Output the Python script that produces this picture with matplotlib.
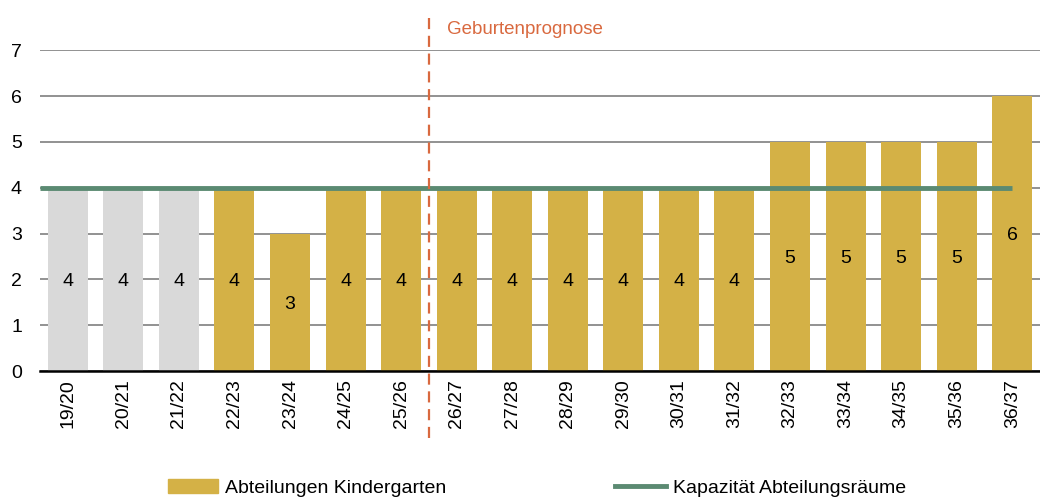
import matplotlib
matplotlib.use("Agg")
import matplotlib.pyplot as plt
from matplotlib.patches import Patch
from matplotlib.lines import Line2D

plt.rcParams['font.family'] = ['Liberation Sans', 'DejaVu Sans']

categories = ["19/20", "20/21", "21/22", "22/23", "23/24", "24/25", "25/26", "26/27", "27/28",
              "28/29", "29/30", "30/31", "31/32", "32/33", "33/34", "34/35", "35/36", "36/37"]
abteilungen = [4, 4, 4, 4, 3, 4, 4, 4, 4, 4, 4, 4, 4, 5, 5, 5, 5, 6]
historic = [True, True, True] + [False] * 15
kapazitaet = 4
forecast_after = "25/26"

gold = "#D4B146"
grey = "#D9D9D9"
green = "#5B8A72"
orange = "#D9693F"

fig = plt.figure(figsize=(10.4, 4.97), dpi=100)
ax = fig.add_axes([0.0385, 0.2535, 0.9615, 0.6455])

x = list(range(len(categories)))
colors = [grey if h else gold for h in historic]
ax.bar(x, abteilungen, width=0.72, color=colors, zorder=2)
for xi, v in zip(x, abteilungen):
    ax.text(xi, v / 2 - 0.05, str(v), ha='center', va='center', fontsize=14, color='black', zorder=3)

ax.plot([-0.5, len(categories) - 1], [kapazitaet, kapazitaet], color=green, lw=3.5, zorder=3,
        solid_capstyle='butt')

fi = categories.index(forecast_after) + 0.5
ax.plot([fi, fi], [-1.46, 7.76], color=orange, lw=1.6, ls=(0, (5, 3)), clip_on=False, zorder=4)
ax.text(fi + 0.33, 7.45, "Geburtenprognose", color=orange, fontsize=13.5, ha='left', va='center')

ax.set_xlim(-0.5, len(categories) - 0.5)
ax.set_ylim(0, 7)
ax.set_yticks(range(0, 8))
ax.yaxis.grid(True, color='#7F7F7F', lw=1.2, zorder=0)
ax.set_axisbelow(True)
for s in ['top', 'right', 'left']:
    ax.spines[s].set_visible(False)
ax.spines['bottom'].set_color('black')
ax.spines['bottom'].set_linewidth(1.8)
ax.spines['bottom'].set_zorder(5)
ax.set_xticks(x)
ax.set_xticklabels(categories, rotation=90, fontsize=14)
ax.tick_params(axis='both', length=0, labelsize=14, pad=6)
ax.tick_params(axis='y', pad=13)

handles = [Patch(color=gold, label="Abteilungen Kindergarten"),
           Line2D([0], [0], color=green, lw=3.5, label="Kapazität Abteilungsräume")]
fig.legend(handles=handles, loc='center', bbox_to_anchor=(0.516, 0.018), ncol=2, frameon=False,
           fontsize=14, columnspacing=8.7, handlelength=2.6, handleheight=0.7, handletextpad=0.35)

fig.savefig("out.png", dpi=100)
